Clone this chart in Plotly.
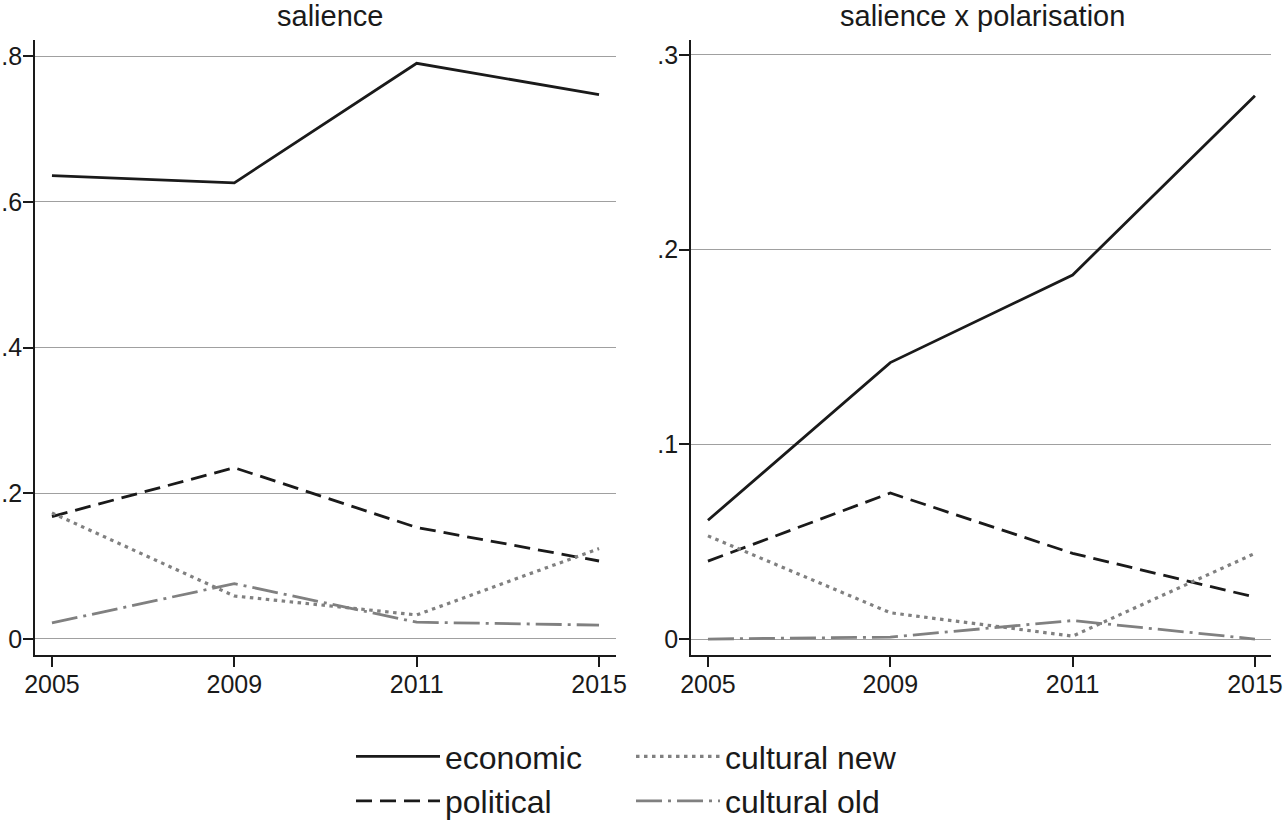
import plotly.graph_objects as go

years = ["2005", "2009", "2011", "2015"]

# panel 1: salience
sal_economic = [0.636, 0.626, 0.790, 0.747]
sal_political = [0.168, 0.235, 0.153, 0.107]
sal_cultural_new = [0.173, 0.059, 0.033, 0.124]
sal_cultural_old = [0.022, 0.076, 0.023, 0.019]

# panel 2: salience x polarisation
sp_economic = [0.061, 0.142, 0.187, 0.279]
sp_political = [0.040, 0.075, 0.044, 0.0215]
sp_cultural_new = [0.053, 0.0135, 0.0015, 0.044]
sp_cultural_old = [0.000, 0.001, 0.0095, 0.000]

left_ticks = [0, 0.2, 0.4, 0.6, 0.8]
left_ticktext = ["0", ".2", ".4", ".6", ".8"]
right_ticks = [0, 0.1, 0.2, 0.3]
right_ticktext = ["0", ".1", ".2", ".3"]

DARK = "#1a1a1a"
GRAY = "#808080"
LW = 2.8

styles = {
    "economic": dict(color=DARK, width=LW, dash="solid"),
    "political": dict(color=DARK, width=LW, dash="16px,8px"),
    "cultural new": dict(color=GRAY, width=3.2, dash="3.5px,4.5px"),
    "cultural old": dict(color=GRAY, width=LW, dash="26px,6px,3px,6px"),
}
legend_of = {"economic": "legend", "political": "legend",
             "cultural new": "legend2", "cultural old": "legend2"}

W, H = 1287, 820


def px_x(p):
    return p / W


def px_y(p):
    return 1 - p / H


fig = go.Figure()

panels = [
    ("x", "y", {"economic": sal_economic, "political": sal_political,
                "cultural new": sal_cultural_new, "cultural old": sal_cultural_old}),
    ("x2", "y2", {"economic": sp_economic, "political": sp_political,
                  "cultural new": sp_cultural_new, "cultural old": sp_cultural_old}),
]

for i, (xa, ya, series) in enumerate(panels):
    for name, vals in series.items():
        fig.add_trace(go.Scatter(
            x=years, y=vals, mode="lines", name=name,
            line=styles[name], xaxis=xa, yaxis=ya,
            showlegend=(i == 0), legend=legend_of[name],
        ))

FONT = "Liberation Sans, Arial, Helvetica, sans-serif"
tickfont = dict(family=FONT, size=25, color="#1a1a1a")

common_x = dict(
    type="category", showline=True, linecolor="#1a1a1a", linewidth=1.6,
    ticks="outside", ticklen=10, tickwidth=1.6, tickcolor="#1a1a1a",
    showgrid=False, zeroline=False, tickfont=tickfont, automargin=False,
    ticklabelstandoff=-4,
)
common_y = dict(
    showline=True, linecolor="#1a1a1a", linewidth=1.6,
    ticks="outside", ticklen=10, tickwidth=1.6, tickcolor="#1a1a1a",
    showgrid=True, gridcolor="#a0a0a0", gridwidth=1, zeroline=False,
    tickfont=tickfont, automargin=False, ticklabelstandoff=-4,
)

legend_common = dict(
    xanchor="left", yanchor="top",
    font=dict(family=FONT, size=32, color="#1a1a1a"),
    itemwidth=84, tracegroupgap=0, bgcolor="rgba(0,0,0,0)",
)

fig.update_layout(
    width=W, height=H,
    margin=dict(l=0, r=0, t=0, b=0, autoexpand=False),
    paper_bgcolor="white", plot_bgcolor="white",
    font=dict(family=FONT, color="#1a1a1a"),
    xaxis=dict(common_x, domain=[px_x(35), px_x(616)], range=[-0.093, 3.093], anchor="y"),
    yaxis=dict(common_y, domain=[px_y(655), px_y(40)], range=[-0.022, 0.822],
               tickvals=left_ticks, ticktext=left_ticktext, anchor="x"),
    xaxis2=dict(common_x, domain=[px_x(691), px_x(1271)], range=[-0.093, 3.088], anchor="y2"),
    yaxis2=dict(common_y, domain=[px_y(655), px_y(40)], range=[-0.0082, 0.3077],
                tickvals=right_ticks, ticktext=right_ticktext, anchor="x2"),
    legend=dict(legend_common, x=px_x(351), y=px_y(729)),
    legend2=dict(legend_common, x=px_x(631), y=px_y(729)),
    annotations=[
        dict(text="salience", x=px_x(330), y=px_y(16),
             xref="paper", yref="paper", showarrow=False,
             font=dict(family=FONT, size=29, color="#1a1a1a"),
             xanchor="center", yanchor="middle"),
        dict(text="salience x polarisation", x=px_x(982), y=px_y(16),
             xref="paper", yref="paper", showarrow=False,
             font=dict(family=FONT, size=29, color="#1a1a1a"),
             xanchor="center", yanchor="middle"),
    ],
)

fig.write_html("out.html", config={"displayModeBar": False},
               post_script="document.body.style.margin='0px';")
